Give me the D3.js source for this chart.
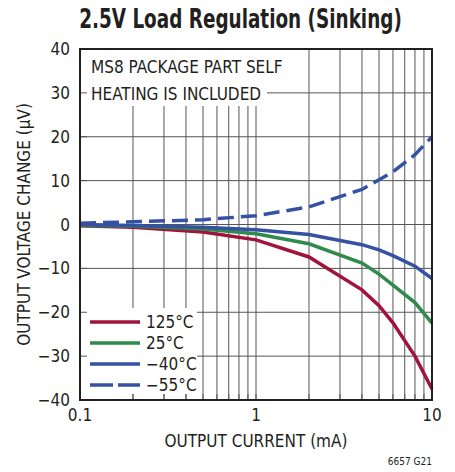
<!DOCTYPE html>
<html>
<head>
<meta charset="utf-8">
<script src="https://cdn.jsdelivr.net/npm/d3@7"></script>
<style>
  body { margin: 0; background: #fff; }
  text { font-family: "Liberation Sans Narrow", "DejaVu Sans Condensed", "Roboto", sans-serif; fill: #231f20; }
</style>
</head>
<body>
<div id="chart"></div>
<script>
// load current (mA) where the curves were read
var current = [0.1, 0.2, 0.5, 1, 2, 4, 5, 6, 8, 10];
// output voltage change (uV) per temperature
var t125 = [-0.3, -0.6, -1.7, -3.5, -7.4, -14.9, -18.5, -22.4, -30, -37.5];
var t25 = [-0.2, -0.4, -1.0, -2.1, -4.4, -8.8, -11.3, -13.8, -17.8, -22.5];
var tm40 = [0, -0.2, -0.6, -1.2, -2.3, -4.6, -5.8, -7.1, -9.5, -12.3];
var tm55 = [0.3, 0.6, 1.1, 2.0, 4.0, 8.0, 10.2, 12.0, 15.9, 20];
var seriesNames = ["125°C", "25°C", "\u221240°C", "\u221255°C"];
var yTicks = [-40, -30, -20, -10, 0, 10, 20, 30, 40];
var xTicks = [0.1, 1, 10];

var w = 455, h = 472;
var pLeft = 80, pRight = 432, pTop = 49, pBottom = 400;

var svg = d3.select("#chart").append("svg")
	.attr("width", w)
	.attr("height", h);

var x = d3.scaleLog().domain([0.1, 10]).range([pLeft, pRight]);
var y = d3.scaleLinear().domain([-40, 40]).range([pBottom, pTop]);

// title (squeezed horizontally to look like the condensed original)
var title = svg.append("text")
	.attr("text-anchor", "middle")
	.style("font-size", "26px").style("font-weight", "bold")
	.text("2.5V Load Regulation (Sinking)");
var sx = 323 / title.node().getComputedTextLength();
title.attr("transform", "translate(240.5,28) scale(" + sx + ",1)");

// grid (minor decades included)
var gridX = [];
[0.1, 1].forEach(function(dec) { for (var k = 2; k <= 9; k++) gridX.push(dec * k); });
gridX.push(1);
var grid = svg.append("g").attr("stroke", "#555").attr("stroke-width", 1);
grid.selectAll("line.vx").data(gridX).enter().append("line")
	.attr("x1", function(d) { return x(d); }).attr("x2", function(d) { return x(d); })
	.attr("y1", pTop).attr("y2", pBottom);
grid.selectAll("line.hy").data(yTicks.slice(1, -1)).enter().append("line")
	.attr("x1", pLeft).attr("x2", pRight)
	.attr("y1", function(d) { return y(d); }).attr("y2", function(d) { return y(d); });

// white boxes behind the note and the legend
svg.append("rect").attr("x", pLeft + 1).attr("y", pTop + 1).attr("width", 186).attr("height", 56).attr("fill", "#fff");
svg.append("rect").attr("x", pLeft + 1).attr("y", 308).attr("width", 116).attr("height", 86).attr("fill", "#fff");

// short inner ticks that show through the boxes
var ticks = svg.append("g").attr("stroke", "#555").attr("stroke-width", 1);
ticks.selectAll("line.lt").data(yTicks.slice(1, -1)).enter().append("line")
	.attr("x1", pLeft).attr("x2", pLeft + 7)
	.attr("y1", function(d) { return y(d); }).attr("y2", function(d) { return y(d); });
ticks.selectAll("line.bt").data(gridX).enter().append("line")
	.attr("x1", function(d) { return x(d); }).attr("x2", function(d) { return x(d); })
	.attr("y1", pBottom - 6).attr("y2", pBottom);

// curves
var line = d3.line()
	.x(function(d) { return x(d[0]); })
	.y(function(d) { return y(d[1]); });
var series = [
	{ name: seriesNames[0], values: t125, color: "#a1133c", dash: null },
	{ name: seriesNames[1], values: t25, color: "#2f8a4c", dash: null },
	{ name: seriesNames[2], values: tm40, color: "#3451a3", dash: null },
	{ name: seriesNames[3], values: tm55, color: "#3451a3", dash: "16,7" }
];
svg.selectAll("path.curve").data(series).enter().append("path")
	.attr("class", "curve")
	.attr("fill", "none")
	.attr("stroke", function(d) { return d.color; })
	.attr("stroke-width", 3.5)
	.attr("stroke-dasharray", function(d) { return d.dash; })
	.attr("d", function(d) { return line(current.map(function(c, i) { return [c, d.values[i]]; })); });

// frame
svg.append("rect")
	.attr("x", pLeft).attr("y", pTop)
	.attr("width", pRight - pLeft).attr("height", pBottom - pTop)
	.attr("fill", "none").attr("stroke", "#231f20").attr("stroke-width", 2);

// note
svg.append("text").attr("x", 91).attr("y", 73).style("font-size", "17px").text("MS8 PACKAGE PART SELF");
svg.append("text").attr("x", 91).attr("y", 100).style("font-size", "17px").text("HEATING IS INCLUDED");

// legend
var leg = svg.selectAll("g.leg").data(series).enter().append("g")
	.attr("transform", function(d, i) { return "translate(90," + (322 + i * 21) + ")"; });
leg.append("line")
	.attr("x1", 0).attr("x2", 50)
	.attr("stroke", function(d) { return d.color; })
	.attr("stroke-width", 3.5)
	.attr("stroke-dasharray", function(d) { return d.dash ? "23,5" : null; });
leg.append("text")
	.attr("x", 56).attr("y", 6)
	.style("font-size", "17px")
	.text(function(d) { return d.name; });

// axis labels
svg.selectAll("text.yl").data(yTicks).enter().append("text")
	.attr("x", 70).attr("y", function(d) { return y(d) + 6; })
	.attr("text-anchor", "end")
	.style("font-size", "17px")
	.text(function(d) { return d < 0 ? "\u2212" + Math.abs(d) : d; });
svg.selectAll("text.xl").data(xTicks).enter().append("text")
	.attr("x", function(d) { return x(d); }).attr("y", 421)
	.attr("text-anchor", "middle")
	.style("font-size", "17px")
	.text(function(d) { return d; });

svg.append("text")
	.attr("x", 256).attr("y", 447)
	.attr("text-anchor", "middle")
	.style("font-size", "17px")
	.text("OUTPUT CURRENT (mA)");
svg.append("text")
	.attr("transform", "translate(30," + y(0) + ") rotate(-90)")
	.attr("text-anchor", "middle")
	.style("font-size", "17px")
	.text("OUTPUT VOLTAGE CHANGE (\u00b5V)");
svg.append("text")
	.attr("x", 432).attr("y", 465)
	.attr("text-anchor", "end")
	.style("font-size", "10px")
	.text("6657 G21");
</script>
</body>
</html>
